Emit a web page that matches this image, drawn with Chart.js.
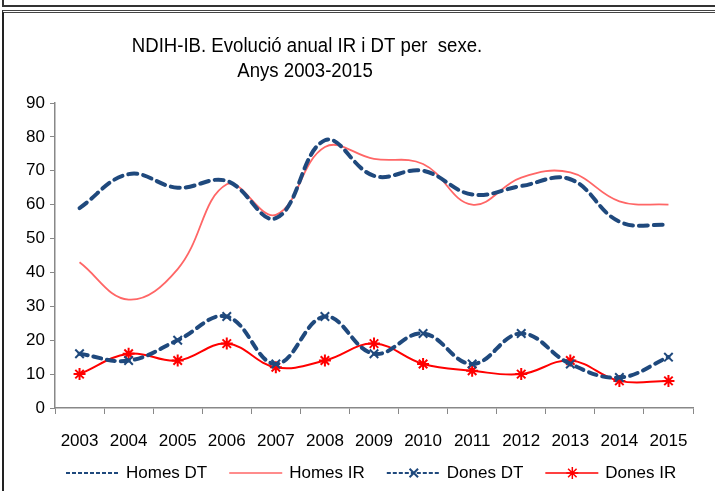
<!DOCTYPE html>
<html lang="ca">
<head>
  <meta charset="UTF-8">
  <title>NDIH-IB</title>
  <script src="https://cdn.jsdelivr.net/npm/chart.js"></script>
  <style>
    html, body { margin: 0; padding: 0; background: #fff; }
    #wrap { position: relative; width: 715px; height: 491px; overflow: hidden; }
    #topbox { position: absolute; left: 2px; top: -4px; width: 720px; height: 7px; border: 2px solid #333; }
    #box { position: absolute; left: 2px; top: 10px; width: 720px; height: 500px; border-top: 3px double #444; border-left: 2px solid #222; }
    #chartBox { position: absolute; left: 0; top: 0; width: 715px; height: 491px; }
  </style>
</head>
<body>
<div id="wrap">
  <div id="topbox"></div>
  <div id="box"></div>
  <div id="chartBox"><canvas id="chart"></canvas></div>
</div>
<script>
  const years = ['2003', '2004', '2005', '2006', '2007', '2008', '2009', '2010', '2011', '2012', '2013', '2014', '2015'];
  const homesDT = [59, 69, 65, 67, 56, 79, 68.5, 70, 63, 65.5, 67.5, 55, 54];
  const homesIR = [43, 32, 41, 66, 57, 77, 73.5, 72, 60, 68, 69.5, 61, 60];
  const donesDT = [16, 14, 20, 27, 13, 27, 16, 22, 13, 22, 13, 9, 15];
  const donesIR = [10, 16, 14, 19, 12, 14, 19, 13, 11, 10, 14, 8, 8];
  const titleLines = ['NDIH-IB. Evolució anual IR i DT per  sexe.', 'Anys 2003-2015'];

  const FONT = '"Liberation Sans", Arial, sans-serif';
  const BLUE = '#1F497D';

  // title + legend drawn by hand to match the original placement
  const extras = {
    id: 'extras',
    afterDraw(chart) {
      const ctx = chart.ctx;
      ctx.save();
      ctx.fillStyle = '#000';
      ctx.textAlign = 'center';
      ctx.textBaseline = 'middle';
      ctx.font = '20px ' + FONT;
      // the original title is a slightly condensed face
      ctx.save();
      ctx.scale(0.93, 1);
      ctx.fillText(titleLines[0], 307 / 0.93, 46);
      ctx.fillText(titleLines[1], 305 / 0.93, 71);
      ctx.restore();

      ctx.font = '17px ' + FONT;
      let x = 66;
      const y = 473;
      ctx.textAlign = 'left';
      chart.data.datasets.forEach(ds => {
        ctx.strokeStyle = ds.borderColor;
        ctx.lineWidth = ds.borderDash ? 2 : 1.5;
        ctx.setLineDash(ds.borderDash ? [4, 2] : []);
        ctx.beginPath();
        ctx.moveTo(x, y);
        ctx.lineTo(x + 53, y);
        ctx.stroke();
        ctx.setLineDash([]);
        if (ds.pointRadius > 0) {
          Chart.helpers.drawPoint(ctx, {
            pointStyle: ds.pointStyle, radius: 6, borderWidth: 2
          }, x + 27, y);
        }
        ctx.fillStyle = '#000';
        ctx.fillText(ds.label, x + 60, y);
        x += 60 + ctx.measureText(ds.label).width + 22;
      });
      ctx.restore();
    }
  };

  new Chart(document.getElementById('chart'), {
    type: 'line',
    data: {
      labels: years,
      datasets: [
        { label: 'Homes DT', data: homesDT, borderColor: BLUE, borderWidth: 4, borderDash: [9, 6], borderCapStyle: 'round', pointRadius: 0, tension: 0.4 },
        { label: 'Homes IR', data: homesIR, borderColor: '#FF6666', borderWidth: 1.8, pointRadius: 0, tension: 0.4 },
        { label: 'Dones DT', data: donesDT, borderColor: BLUE, borderWidth: 4, borderDash: [8, 6], borderCapStyle: 'round',
          pointStyle: 'crossRot', pointRadius: 6, pointBorderColor: BLUE, pointBorderWidth: 2, tension: 0.4 },
        { label: 'Dones IR', data: donesIR, borderColor: '#FF0000', borderWidth: 2,
          pointStyle: 'star', pointRadius: 6, pointBorderColor: '#FF0000', pointBorderWidth: 2, tension: 0.4 }
      ]
    },
    options: {
      responsive: true,
      maintainAspectRatio: false,
      animation: false,
      layout: { padding: { top: 103, left: 5, right: 22, bottom: 38 } },
      plugins: { legend: { display: false }, title: { display: false }, tooltip: { enabled: false } },
      scales: {
        x: {
          offset: true,
          grid: { offset: true, drawOnChartArea: false, color: '#888', tickLength: 6 },
          border: { color: '#888', width: 1.5 },
          ticks: { color: '#000', font: { family: FONT, size: 17 }, padding: 17, maxRotation: 0 },
          afterFit(scale) { scale.height = 45; }
        },
        y: {
          min: 0, max: 90,
          grid: { drawOnChartArea: false, color: '#888', tickLength: 5 },
          border: { color: '#888', width: 1.5 },
          ticks: { stepSize: 10, color: '#000', font: { family: FONT, size: 17 }, padding: 5 },
          afterFit(scale) { scale.width = 50; }
        }
      }
    },
    plugins: [extras]
  });
</script>
</body>
</html>
